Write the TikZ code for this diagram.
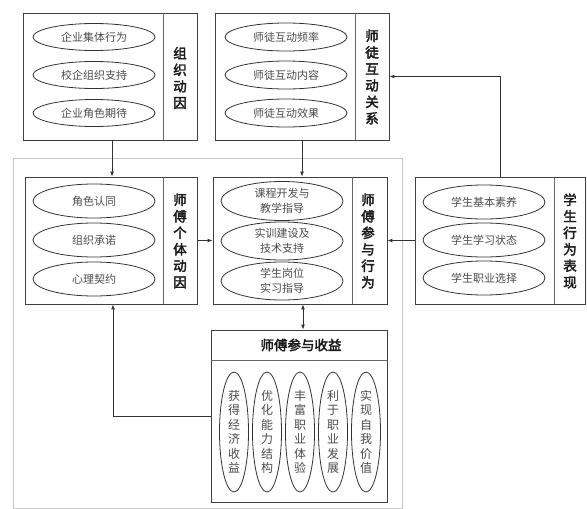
\documentclass[tikz,border=0pt]{standalone}
\usepackage{fontspec}
\usetikzlibrary{shapes.geometric,arrows.meta}
\newfontfamily\cjk{Noto Sans CJK SC}
\newfontfamily\cjkb[FakeBold=2.5]{Noto Sans CJK SC}
\tikzset{
  box/.style={draw=black!75, line width=0.8pt, rectangle, inner sep=0pt},
  outerbox/.style={draw=black!22, line width=0.9pt, rectangle, inner sep=0pt},
  ell/.style={ellipse, draw=black!80, line width=0.8pt, minimum width=122pt, minimum height=34pt, inner sep=0pt, align=center, text=black!70, font=\cjk\fontsize{11}{13}\selectfont},
  vell/.style={ellipse, draw=black!80, line width=0.8pt, minimum width=29pt, minimum height=120pt, inner sep=0pt, align=center, text=black!70, font=\cjk\fontsize{12}{14.5}\selectfont},
  ttl/.style={align=center, inner sep=0pt, text=black!90, font=\cjkb\fontsize{13.5}{16.5}\selectfont},
  divl/.style={draw=black!60, line width=0.7pt},
  arr/.style={-{Latex[length=5pt,width=4pt]}, line width=0.9pt, draw=black!80},
  darr/.style={{Latex[length=5pt,width=4pt]}-{Latex[length=5pt,width=4pt]}, line width=0.9pt, draw=black!80}
}
\begin{document}
\begin{tikzpicture}[x=1pt,y=-1pt]
\useasboundingbox (0,0) rectangle (587,509);
\fill[white] (0,0) rectangle (587,509);

% outer light box
\node[outerbox, minimum width=389pt, minimum height=350pt] (O) at (207.5,333) {};

% Box A: 组织动因
\node[box, minimum width=174pt, minimum height=127pt] (A) at (110,76.5) {};
\draw[divl] (163,13) -- (163,140);
\node[ell, minimum height=27pt] (a1) at (94,37) {企业集体行为};
\node[ell, minimum height=27pt] (a2) at (94,75) {校企组织支持};
\node[ell, minimum height=27pt] (a3) at (94,113) {企业角色期待};
\node[ttl] (at) at (180,78) {组\\织\\动\\因};

% Box B: 师徒互动关系
\node[box, minimum width=174pt, minimum height=127pt] (B) at (302,76.5) {};
\draw[divl] (355,13) -- (355,140);
\node[ell, minimum height=28pt] (b1) at (286,37) {师徒互动频率};
\node[ell, minimum height=28pt] (b2) at (286,75) {师徒互动内容};
\node[ell, minimum height=28pt] (b3) at (286,113) {师徒互动效果};
\node[ttl] (bt) at (372,77) {师\\徒\\互\\动\\关\\系};

% Box C: 师傅个体动因
\node[box, minimum width=172pt, minimum height=127pt] (C) at (111,240.5) {};
\draw[divl] (163,177) -- (163,304);
\node[ell] (c1) at (94,201) {角色认同};
\node[ell] (c2) at (94,240) {组织承诺};
\node[ell] (c3) at (94,279) {心理契约};
\node[ttl] (ct) at (180,241) {师\\傅\\个\\体\\动\\因};

% Box D: 师傅参与行为
\node[box, minimum width=174pt, minimum height=127pt] (D) at (300,240.5) {};
\draw[divl] (352,177) -- (352,304);
\node[ell, minimum height=39pt, font=\cjk\fontsize{11}{15}\selectfont] (d1) at (282,201) {课程开发与\\教学指导};
\node[ell, minimum height=38pt, font=\cjk\fontsize{11}{15}\selectfont] (d2) at (282,241) {实训建设及\\技术支持};
\node[ell, minimum height=38pt, font=\cjk\fontsize{11}{15}\selectfont] (d3) at (282,281) {学生岗位\\实习指导};
\node[ttl] (dt) at (368,241) {师\\傅\\参\\与\\行\\为};

% Box E: 学生行为表现
\node[box, minimum width=170pt, minimum height=127pt] (E) at (500,240.5) {};
\draw[divl] (554,177) -- (554,304);
\node[ell] (e1) at (484,202) {学生基本素养};
\node[ell] (e2) at (484,240) {学生学习状态};
\node[ell] (e3) at (484,278) {学生职业选择};
\node[ttl] (et) at (570,241) {学\\生\\行\\为\\表\\现};

% Box F: 师傅参与收益
\node[box, minimum width=176pt, minimum height=172pt] (F) at (299,416) {};
\draw[divl] (211,360) -- (387,360);
\node[ttl, font=\cjkb\fontsize{13.5}{16}\selectfont] (ft) at (301,345) {师傅参与收益};
\node[vell] (f1) at (234,432) {获\\得\\经\\济\\收\\益};
\node[vell] (f2) at (267,432) {优\\化\\能\\力\\结\\构};
\node[vell] (f3) at (300,432) {丰\\富\\职\\业\\体\\验};
\node[vell] (f4) at (333,432) {利\\于\\职\\业\\发\\展};
\node[vell] (f5) at (366,432) {实\\现\\自\\我\\价\\值};

% connectors
\draw[arr] (A.south) ++(2,0) coordinate (aS) -- (aS |- C.north);
\draw[arr] (B.south) -- (B.south |- D.north);
\draw[arr] (C.east) -- (C.east -| D.west);
\draw[arr] (E.west) -- (E.west -| D.east);
\draw[arr] (E.north) |- (B.east);
\draw[darr] (D.south) ++(3,0) coordinate (dS) -- (dS |- F.north);
\draw[arr] (F.west) -| ([xshift=2pt]C.south);
\end{tikzpicture}
\end{document}
